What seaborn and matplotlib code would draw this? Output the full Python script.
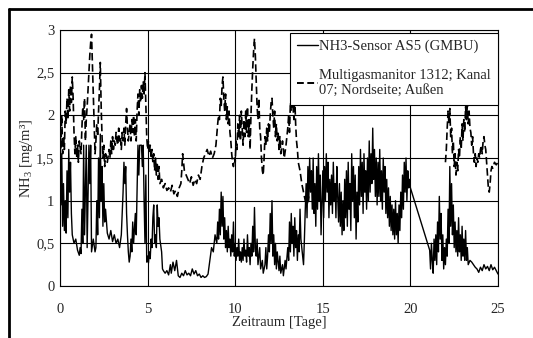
import numpy as np
import pandas as pd
import matplotlib
matplotlib.use("Agg")
import matplotlib.pyplot as plt
import seaborn as sns
from matplotlib.lines import Line2D

# NH3-Sensor AS5 (GMBU), day / value
sensor_days = [
    0.00, 0.05, 0.10, 0.15, 0.20, 0.25, 0.30, 0.35, 0.40, 0.45, 0.50, 0.55, 0.60, 0.65, 0.70, 0.80, 0.90, 1.00,
    1.10, 1.15, 1.20, 1.25, 1.30, 1.35, 1.40, 1.50, 1.55, 1.65, 1.70, 1.75, 1.80, 1.90, 2.00, 2.05, 2.10, 2.15,
    2.20, 2.25, 2.30, 2.35, 2.40, 2.45, 2.50, 2.55, 2.60, 2.70, 2.80, 2.90, 3.00, 3.10, 3.20, 3.30, 3.40, 3.50,
    3.60, 3.65, 3.70, 3.75, 3.80, 3.85, 3.90, 3.95, 4.00, 4.05, 4.10, 4.15, 4.20, 4.30, 4.35, 4.40, 4.45, 4.50,
    4.55, 4.65, 4.70, 4.75, 4.80, 4.85, 4.90, 4.95, 5.00, 5.05, 5.10, 5.15, 5.20, 5.25, 5.30, 5.35, 5.40, 5.45,
    5.50, 5.55, 5.60, 5.65, 5.70, 5.80, 5.85, 5.90, 6.00, 6.10, 6.20, 6.30, 6.35, 6.45, 6.55, 6.65, 6.75, 6.85,
    6.95, 7.05, 7.15, 7.25, 7.35, 7.45, 7.55, 7.65, 7.75, 7.85, 7.95, 8.05, 8.15, 8.25, 8.35, 8.45, 8.55, 8.65,
    8.75, 8.85, 8.95, 9.00, 9.05, 9.10, 9.15, 9.20, 9.25, 9.30, 9.35, 9.40, 9.45, 9.50, 9.55, 9.60, 9.65, 9.70,
    9.75, 9.80, 9.85, 9.90, 9.95, 10.00, 10.05, 10.10, 10.15, 10.20, 10.25, 10.30, 10.35, 10.40, 10.45, 10.50,
    10.55, 10.60, 10.65, 10.70, 10.75, 10.80, 10.85, 10.90, 10.95, 11.00, 11.05, 11.10, 11.15, 11.20, 11.25,
    11.30, 11.40, 11.45, 11.55, 11.60, 11.70, 11.75, 11.80, 11.85, 11.90, 11.95, 12.00, 12.05, 12.10, 12.15,
    12.20, 12.25, 12.30, 12.35, 12.40, 12.50, 12.55, 12.60, 12.70, 12.75, 12.85, 12.90, 13.00, 13.05, 13.10,
    13.15, 13.20, 13.25, 13.30, 13.35, 13.40, 13.45, 13.50, 13.55, 13.60, 13.65, 13.70, 13.75, 13.80, 13.85,
    13.90, 13.95, 14.00, 14.05, 14.10, 14.15, 14.20, 14.25, 14.30, 14.35, 14.40, 14.45, 14.50, 14.55, 14.60,
    14.65, 14.70, 14.75, 14.80, 14.85, 14.90, 14.95, 15.00, 15.05, 15.10, 15.15, 15.20, 15.25, 15.30, 15.35,
    15.40, 15.45, 15.50, 15.55, 15.60, 15.65, 15.70, 15.75, 15.80, 15.85, 15.90, 15.95, 16.00, 16.05, 16.10,
    16.15, 16.20, 16.25, 16.30, 16.35, 16.40, 16.45, 16.50, 16.55, 16.60, 16.65, 16.70, 16.75, 16.80, 16.85,
    16.90, 16.95, 17.00, 17.05, 17.10, 17.15, 17.20, 17.25, 17.30, 17.35, 17.40, 17.45, 17.50, 17.55, 17.60,
    17.65, 17.70, 17.75, 17.80, 17.85, 17.90, 17.95, 18.00, 18.05, 18.10, 18.15, 18.20, 18.25, 18.30, 18.35,
    18.40, 18.45, 18.50, 18.55, 18.60, 18.65, 18.70, 18.75, 18.80, 18.85, 18.90, 18.95, 19.00, 19.05, 19.10,
    19.15, 19.20, 19.25, 19.30, 19.35, 19.40, 19.45, 19.50, 19.55, 19.60, 19.65, 19.70, 19.75, 19.80, 19.85,
    19.90, 19.95, 20.00, 21.10, 21.15, 21.20, 21.25, 21.30, 21.35, 21.40, 21.45, 21.50, 21.55, 21.60, 21.65,
    21.70, 21.75, 21.80, 21.85, 21.90, 21.95, 22.00, 22.05, 22.10, 22.15, 22.20, 22.25, 22.30, 22.35, 22.40,
    22.45, 22.50, 22.55, 22.60, 22.65, 22.70, 22.75, 22.80, 22.85, 22.90, 22.95, 23.00, 23.05, 23.10, 23.15,
    23.20, 23.25, 23.30, 23.40, 23.50, 23.60, 23.70, 23.80, 23.90, 24.00, 24.10, 24.20, 24.30, 24.40, 24.50,
    24.60, 24.70, 24.80, 24.90, 25.00,
]
sensor_vals = [
    1.45, 0.95, 1.55, 0.70, 1.20, 0.65, 1.00, 0.62, 1.35, 0.80, 1.60, 1.10, 1.45, 0.85, 0.60, 0.50, 0.55, 0.42,
    0.36, 0.45, 0.38, 0.90, 0.50, 1.65, 0.60, 1.65, 0.45, 1.65, 1.20, 1.65, 0.40, 0.55, 0.40, 0.45, 1.00, 0.60,
    1.50, 0.80, 1.78, 1.00, 1.40, 0.70, 1.20, 0.75, 0.90, 0.62, 0.55, 0.65, 0.52, 0.60, 0.50, 0.55, 0.45, 0.60,
    1.10, 1.45, 1.20, 1.40, 0.85, 0.60, 0.40, 0.28, 0.35, 0.55, 0.40, 0.75, 0.50, 0.85, 0.60, 1.10, 1.65, 1.30,
    1.65, 1.65, 1.40, 1.65, 1.00, 0.50, 1.30, 0.28, 0.35, 0.27, 0.40, 0.32, 0.55, 0.45, 0.80, 0.95, 0.50, 0.60,
    0.45, 0.95, 0.70, 0.80, 0.55, 0.40, 0.20, 0.18, 0.15, 0.18, 0.13, 0.25, 0.15, 0.28, 0.18, 0.30, 0.12, 0.10,
    0.15, 0.12, 0.18, 0.13, 0.15, 0.12, 0.20, 0.14, 0.18, 0.12, 0.14, 0.10, 0.12, 0.10, 0.11, 0.14, 0.30, 0.45,
    0.40, 0.60, 0.50, 0.75, 0.55, 0.90, 0.60, 1.10, 0.70, 1.05, 0.55, 0.80, 0.45, 0.65, 0.40, 0.70, 0.45, 0.55,
    0.35, 0.60, 0.40, 0.75, 0.35, 0.50, 0.30, 0.45, 0.35, 0.55, 0.30, 0.40, 0.28, 0.45, 0.30, 0.55,
    0.35, 0.42, 0.28, 0.60, 0.35, 0.45, 0.25, 0.50, 0.35, 0.70, 0.40, 0.92, 0.45, 0.35, 0.55,
    0.25, 0.45, 0.20, 0.30, 0.15, 0.25, 0.45, 0.20, 0.35, 0.60, 0.40, 0.85, 0.50, 1.00, 0.35,
    0.60, 0.25, 0.50, 0.20, 0.40, 0.18, 0.35, 0.15, 0.25, 0.12, 0.30, 0.20, 0.45, 0.30, 0.75,
    0.40, 0.85, 0.50, 0.70, 0.35, 0.80, 0.45, 0.65, 0.30, 0.60, 0.40, 0.90, 0.55, 0.45, 0.35,
    0.25, 0.55, 0.90, 1.20, 0.80, 1.40, 1.00, 1.50, 1.10, 1.35, 0.90, 1.50, 0.85, 1.20, 0.70,
    1.40, 0.90, 1.55, 1.00, 1.30, 0.60, 1.00, 1.35, 0.80, 1.40, 1.00, 1.55, 1.10, 1.45, 0.80,
    1.25, 0.95, 1.30, 0.85, 1.45, 1.00, 1.20, 0.80, 1.40, 1.05, 0.75, 1.20, 0.70, 1.10, 0.60,
    1.00, 0.65, 1.25, 0.80, 1.35, 0.70, 1.45, 0.90, 1.20, 0.65, 1.55, 1.00, 1.40, 0.80, 1.30,
    0.55, 1.10, 0.75, 1.40, 0.95, 1.60, 1.05, 1.45, 0.85, 1.55, 1.10, 1.35, 0.90, 1.50, 1.00,
    1.70, 1.10, 1.55, 1.20, 1.85, 1.25, 1.60, 1.05, 1.50, 0.95, 1.45, 1.05, 1.60, 1.00, 1.35,
    0.90, 1.50, 1.10, 1.40, 0.85, 1.25, 0.80, 1.15, 0.70, 1.05, 0.65, 0.95, 0.60, 0.90, 0.55,
    1.00, 0.60, 0.85, 0.50, 0.95, 0.65, 1.10, 0.80, 1.30, 0.90, 1.45, 1.10, 1.50, 1.00, 1.35,
    1.15, 1.25, 1.15, 0.42, 0.20, 0.50, 0.30, 0.15, 0.55, 0.30, 0.60, 0.25, 0.75, 0.40, 1.05,
    0.55, 0.85, 0.30, 0.60, 0.20, 0.45, 0.25, 0.55, 0.35, 0.90, 0.50, 1.40, 0.70, 1.20, 0.60,
    0.95, 0.45, 0.75, 0.40, 0.65, 0.35, 0.80, 0.40, 0.60, 0.30, 0.70, 0.35, 0.55, 0.30, 0.65,
    0.30, 0.45, 0.25, 0.30, 0.28, 0.25, 0.22, 0.20, 0.16, 0.22, 0.18, 0.25, 0.20, 0.23, 0.18,
    0.25, 0.19, 0.22, 0.18, 0.14,
]

# Multigasmanitor 1312, Kanal 07 (NaN = no data)
multigas_days = [
    0.00, 0.05, 0.10, 0.15, 0.20, 0.25, 0.30, 0.35, 0.40, 0.45, 0.50, 0.55, 0.60, 0.65, 0.70, 0.75, 0.80, 0.85,
    0.90, 0.95, 1.00, 1.05, 1.10, 1.20, 1.25, 1.30, 1.35, 1.40, 1.45, 1.50, 1.55, 1.60, 1.65, 1.70, 1.75, 1.80,
    1.85, 1.90, 1.95, 2.00, 2.05, 2.10, 2.15, 2.20, 2.25, 2.30, 2.35, 2.40, 2.45, 2.50, 2.55, 2.60, 2.70, 2.80,
    2.85, 2.90, 2.95, 3.00, 3.05, 3.10, 3.15, 3.20, 3.25, 3.30, 3.35, 3.40, 3.45, 3.50, 3.55, 3.60, 3.65, 3.70,
    3.75, 3.80, 3.85, 3.90, 3.95, 4.00, 4.05, 4.10, 4.15, 4.20, 4.25, 4.30, 4.35, 4.40, 4.45, 4.50, 4.55, 4.60,
    4.65, 4.70, 4.75, 4.80, 4.85, 4.90, 4.95, 5.00, 5.05, 5.10, 5.15, 5.20, 5.25, 5.30, 5.35, 5.40, 5.45, 5.50,
    5.55, 5.60, 5.65, 5.70, 5.80, 5.90, 6.00, 6.10, 6.20, 6.30, 6.40, 6.50, 6.60, 6.70, 6.80, 6.90, 6.95, 7.00,
    7.05, 7.10, 7.20, 7.30, 7.40, 7.50, 7.60, 7.70, 7.80, 7.90, 8.00, 8.10, 8.20, 8.30, 8.40, 8.50, 8.60, 8.70,
    8.80, 8.90, 9.00, 9.05, 9.10, 9.15, 9.20, 9.25, 9.30, 9.35, 9.40, 9.45, 9.50, 9.55, 9.60, 9.65, 9.70, 9.75,
    9.80, 9.85, 9.90, 9.95, 10.00, 10.05, 10.10, 10.15, 10.20, 10.25, 10.30, 10.35, 10.40, 10.45, 10.50, 10.55,
    10.60, 10.65, 10.70, 10.75, 10.80, 10.85, 10.90, 10.95, 11.00, 11.05, 11.10, 11.15, 11.20, 11.25, 11.30,
    11.35, 11.40, 11.45, 11.50, 11.55, 11.60, 11.65, 11.70, 11.75, 11.80, 11.85, 11.90, 11.95, 12.00, 12.05,
    12.10, 12.15, 12.20, 12.25, 12.30, 12.35, 12.40, 12.45, 12.50, 12.55, 12.60, 12.70, 12.80, 12.90, 13.00,
    13.05, 13.10, 13.15, 13.20, 13.25, 13.30, 13.35, 13.40, 13.45, 13.50, 13.55, 13.60, 13.70, 13.80, 13.90,
    14.00, 14.10, 14.20, 18.00, 22.00, 22.05, 22.10, 22.15, 22.20, 22.25, 22.30, 22.35, 22.40, 22.45, 22.50,
    22.55, 22.60, 22.65, 22.70, 22.75, 22.80, 22.85, 22.90, 22.95, 23.00, 23.05, 23.10, 23.15, 23.20, 23.25,
    23.30, 23.35, 23.40, 23.45, 23.50, 23.55, 23.60, 23.65, 23.70, 23.75, 23.80, 23.85, 23.90, 23.95, 24.00,
    24.05, 24.10, 24.15, 24.20, 24.25, 24.30, 24.35, 24.40, 24.45, 24.50, 24.55, 24.60, 24.65, 24.70, 24.80,
    24.90, 25.00,
]
multigas_vals = [
    1.85, 1.60, 2.00, 1.55, 1.75, 1.60, 2.05, 1.90, 2.20, 1.95, 2.30, 2.05, 2.35, 2.15, 2.45, 2.20, 1.80, 1.55,
    1.75, 1.50, 1.65, 1.45, 1.70, 1.55, 1.85, 2.10, 1.95, 2.20, 1.70, 1.95, 2.10, 2.30, 2.50, 2.70, 2.85, 2.95,
    2.60, 2.25, 1.90, 1.55, 1.70, 1.90, 1.75, 2.05, 2.30, 2.62, 2.10, 1.75, 1.50, 1.65, 1.40, 1.55, 1.45, 1.60,
    1.50, 1.70, 1.55, 1.75, 1.60, 1.70, 1.65, 1.80, 1.70, 1.65, 1.85, 1.70, 1.75, 1.60, 1.80, 1.70, 1.85, 1.65,
    1.90, 2.08, 1.85, 1.70, 1.80, 1.90, 1.70, 1.95, 1.80, 2.00, 1.75, 1.95, 1.70, 2.05, 2.25, 2.00, 2.30, 2.15,
    2.35, 2.20, 2.40, 2.25, 2.50, 2.10, 1.75, 1.60, 1.70, 1.55, 1.65, 1.50, 1.60, 1.45, 1.55, 1.35, 1.50, 1.30,
    1.45, 1.25, 1.40, 1.20, 1.25, 1.15, 1.20, 1.12, 1.15, 1.10, 1.18, 1.08, 1.12, 1.05, 1.15, 1.20, 1.35, 1.55,
    1.45, 1.35, 1.30, 1.25, 1.20, 1.28, 1.18, 1.25, 1.20, 1.30, 1.25, 1.40, 1.50, 1.55, 1.60, 1.52, 1.58, 1.50,
    1.55, 1.65, 1.90, 2.00, 1.95, 2.20, 2.10, 2.35, 2.45, 2.20, 2.05, 2.25, 1.95, 2.10, 1.90, 2.05, 1.80, 1.70,
    1.55, 1.45, 1.40, 1.50, 1.45, 1.70, 1.60, 1.90, 1.75, 2.00, 1.70, 2.05, 1.85, 1.65, 1.95, 1.75,
    2.05, 1.80, 2.10, 1.75, 1.95, 1.60, 2.00, 2.30, 2.55, 2.75, 2.90, 2.70, 2.40, 2.10, 1.95,
    2.20, 1.85, 1.75, 1.50, 1.35, 1.30, 1.50, 1.75, 1.65, 1.85, 1.70, 1.90, 1.80, 2.00, 2.15,
    2.20, 2.00, 1.85, 2.05, 1.75, 1.90, 1.70, 1.80, 1.60, 1.75, 1.55, 1.70, 1.50, 1.65, 1.85,
    2.00, 1.80, 2.15, 2.05, 2.30, 2.10, 1.95, 2.20, 1.90, 1.70, 1.60, 1.45, 1.35, 1.20, 1.10,
    1.00, 0.95, 1.05, np.nan, 1.45, 1.60, 1.85, 2.05, 1.90, 2.08, 1.75, 1.85, 1.55, 1.70, 1.40,
    1.55, 1.30, 1.45, 1.35, 1.60, 1.50, 1.75, 1.60, 1.90, 1.70, 1.95, 1.80, 2.10, 1.95, 2.12,
    1.90, 2.05, 1.85, 1.80, 1.65, 1.75, 1.55, 1.45, 1.55, 1.40, 1.50, 1.45, 1.55, 1.50, 1.60,
    1.65, 1.55, 1.70, 1.75, 1.65, 1.60, 1.45, 1.30, 1.15, 1.10, 1.20, 1.35, 1.40, 1.38, 1.45,
    1.42, 1.45,
]

label_sensor = "NH3-Sensor AS5 (GMBU)"
label_multigas = "Multigasmanitor 1312; Kanal\n07; Nordseite; Außen"
x_ticks = [0, 5, 10, 15, 20, 25]
y_ticks = [0, 0.5, 1, 1.5, 2, 2.5, 3]
y_tick_labels = ["0", "0,5", "1", "1,5", "2", "2,5", "3"]


def main():
    sns.set_style("white")
    plt.rcParams["font.family"] = ["Liberation Serif", "DejaVu Serif"]
    plt.rcParams["mathtext.fontset"] = "custom"
    plt.rcParams["mathtext.rm"] = "Liberation Serif"
    plt.rcParams["mathtext.it"] = "Liberation Serif:italic"

    df_s = pd.DataFrame({"day": sensor_days, "value": sensor_vals})
    df_m = pd.DataFrame({"day": multigas_days, "value": multigas_vals})
    df_m["segment"] = df_m["value"].isna().cumsum()
    df_m = df_m.dropna()

    fig = plt.figure(figsize=(5.33, 3.38), dpi=100)
    ax = fig.add_axes([60 / 533, 1 - 286 / 338, (498 - 60) / 533, (286 - 30) / 338])

    sns.lineplot(data=df_m, x="day", y="value", units="segment", estimator=None, sort=False,
                 color="black", lw=1.2, legend=False, ax=ax)
    for ln in ax.lines:
        ln.set_dashes((4.5, 2.2))
    sns.lineplot(data=df_s, x="day", y="value", estimator=None, sort=False,
                 color="black", lw=1.0, legend=False, ax=ax)

    ax.set_xlim(0, 25)
    ax.set_ylim(0, 3)
    ax.set_xticks(x_ticks)
    ax.set_yticks(y_ticks)
    ax.set_yticklabels(y_tick_labels)
    ax.grid(True, color="black", lw=0.8)
    ax.set_axisbelow(True)
    for s in ax.spines.values():
        s.set_color("black")
        s.set_linewidth(0.8)
    ax.tick_params(direction="out", length=3, width=0.8, color="black", labelsize=10.5)
    ax.tick_params(axis="x", pad=9)
    ax.tick_params(axis="y", pad=1)
    ax.set_xlabel("Zeitraum [Tage]", fontsize=10.5, labelpad=0)
    ax.set_ylabel("NH$_3$ [mg/m³]", fontsize=10.5, labelpad=1)

    handles = [
        Line2D([], [], color="black", lw=1.0),
        Line2D([], [], color="black", lw=1.4, dashes=(3.5, 1.8)),
    ]
    leg = ax.legend(handles, [label_sensor, label_multigas], loc="upper right",
                    bbox_to_anchor=(1.0, 0.99), borderaxespad=0, fancybox=False,
                    framealpha=1, edgecolor="black", fontsize=10.5, handlelength=1.4,
                    handletextpad=0.1, labelspacing=1.1, borderpad=0.5)
    leg.get_frame().set_linewidth(0.8)

    # outer frame of the figure: only its top and left edges are in view
    top = 1 - 8.5 / 338
    left = 8.5 / 533
    fig.add_artist(Line2D([left, 1.0], [top, top], transform=fig.transFigure, color="black", lw=2))
    fig.add_artist(Line2D([left, left], [0.0, top], transform=fig.transFigure, color="black", lw=2))

    fig.savefig("out.png", dpi=100)


if __name__ == "__main__":
    main()
